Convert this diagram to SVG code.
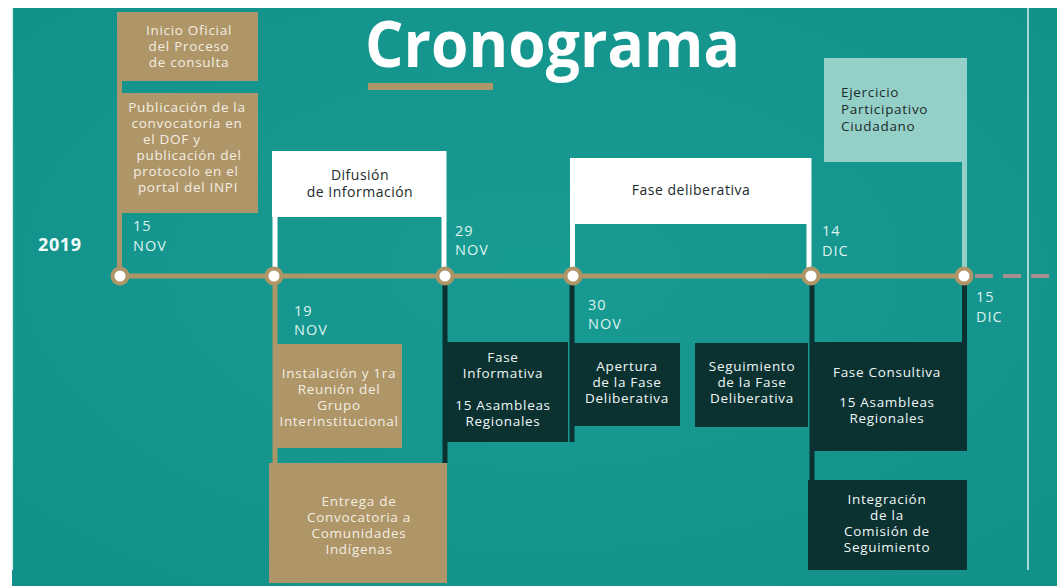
<svg xmlns="http://www.w3.org/2000/svg" width="1057" height="586" viewBox="0 0 1057 586">
<defs>
<style>
.t{font-family:"Open Sans","Liberation Sans",sans-serif;font-size:13.5px;letter-spacing:0.7px;text-anchor:middle}
.cream{fill:#f4ede2}
.dk{fill:#1c2b2b}
.wt{fill:#eef8f6}
.hd{font-size:14px;letter-spacing:0.5px}
.ej{font-size:13.5px;letter-spacing:0.7px;text-anchor:start}
.date{font-family:"Open Sans","Liberation Sans",sans-serif;font-size:14.5px;letter-spacing:1px;fill:#def2ee}
.tan{fill:#ae9668}
.dark{fill:#0c3131}
.white{fill:#ffffff}
.lt{fill:#95d0c8}
.stem{stroke-width:5;fill:none}
.dot{fill:#ffffff;stroke:#ae9668;stroke-width:4}
</style>
<radialGradient id="bg" cx="50%" cy="45%" r="70%">
<stop offset="0" stop-color="#189b93"/>
<stop offset="1" stop-color="#12918a"/>
</radialGradient>
</defs>
<rect x="0" y="0" width="1057" height="586" fill="#ffffff"/>
<rect x="12" y="8" width="1045" height="578" fill="url(#bg)"/>
<line x1="12.5" y1="8" x2="12.5" y2="570" stroke="#cfe9e5" stroke-width="1.2"/>
<line x1="1028" y1="8" x2="1028" y2="570" stroke="#d7efeb" stroke-width="1.5"/>

<g id="title">
<text x="365" y="67" font-family="'Open Sans','Liberation Sans',sans-serif" font-weight="700" font-size="64" fill="#ffffff" textLength="375" lengthAdjust="spacingAndGlyphs">Cronograma</text>
<rect x="368" y="83" width="125" height="7" class="tan"/>
</g>
<g id="year"><text x="38" y="251" font-family="'Open Sans','Liberation Sans',sans-serif" font-weight="700" font-size="18" letter-spacing="0.6" fill="#f2fbf9">2019</text></g>

<g id="connectors">
<line x1="120" y1="276" x2="964" y2="276" stroke="#ae9668" stroke-width="5"/>
<line x1="975" y1="276" x2="1057" y2="276" stroke="#a68e8e" stroke-width="4" stroke-dasharray="18 10"/>
<line x1="119.5" y1="12" x2="119.5" y2="276" stroke="#ae9668" class="stem"/>
<line x1="275" y1="151" x2="275" y2="276" stroke="#ffffff" class="stem"/>
<line x1="444" y1="151" x2="444" y2="276" stroke="#ffffff" class="stem"/>
<line x1="275" y1="276" x2="275" y2="463" stroke="#ae9668" class="stem"/>
<line x1="445" y1="276" x2="445" y2="463" stroke="#0c3131" class="stem"/>
<line x1="572.5" y1="158" x2="572.5" y2="276" stroke="#ffffff" class="stem"/>
<line x1="809" y1="158" x2="809" y2="276" stroke="#ffffff" class="stem"/>
<line x1="572" y1="276" x2="572" y2="442" stroke="#0c3131" class="stem"/>
<line x1="812" y1="276" x2="812" y2="480" stroke="#0c3131" class="stem"/>
<line x1="964.5" y1="58" x2="964.5" y2="276" stroke="#95d0c8" class="stem"/>
<line x1="964.5" y1="276" x2="964.5" y2="342" stroke="#0c3131" class="stem"/>
</g>

<g id="dots">
<circle cx="120" cy="276" r="7.5" class="dot"/>
<circle cx="274" cy="276" r="7.5" class="dot"/>
<circle cx="445" cy="276" r="7.5" class="dot"/>
<circle cx="573" cy="276" r="7.5" class="dot"/>
<circle cx="811" cy="276" r="7.5" class="dot"/>
<circle cx="964" cy="276" r="7.5" class="dot"/>
</g>

<g id="dates">
<text class="date" x="133" y="231">15</text><text class="date" x="133" y="251">NOV</text>
<text class="date" x="294" y="316">19</text><text class="date" x="294" y="335">NOV</text>
<text class="date" x="455" y="236">29</text><text class="date" x="455" y="255">NOV</text>
<text class="date" x="588" y="310">30</text><text class="date" x="588" y="329">NOV</text>
<text class="date" x="822" y="236">14</text><text class="date" x="822" y="256">DIC</text>
<text class="date" x="976" y="302">15</text><text class="date" x="976" y="322">DIC</text>
</g>

<g id="inicio">
<rect x="117" y="12" width="141" height="69" class="tan"/>
<text class="t cream" x="189" y="35">Inicio Oficial</text>
<text class="t cream" x="189" y="51">del Proceso</text>
<text class="t cream" x="189" y="67">de consulta</text>
</g>
<g id="publicacion">
<rect x="120" y="93" width="138" height="120" class="tan"/>
<text class="t cream" x="187" y="112">Publicación de la</text>
<text class="t cream" x="187" y="128">convocatoria en</text>
<text class="t cream" x="143" y="144" style="text-anchor:start">el DOF y</text>
<text class="t cream" x="189" y="160">publicación del</text>
<text class="t cream" x="186" y="176">protocolo en el</text>
<text class="t cream" x="188" y="192">portal del INPI</text>
</g>
<g id="difusion">
<rect x="272" y="151" width="174" height="66" class="white"/>
<text class="t dk hd" x="360" y="180">Difusión</text>
<text class="t dk hd" x="360" y="197">de Información</text>
</g>
<g id="deliberativa">
<rect x="570" y="158" width="241" height="66" class="white"/>
<text class="t dk hd" x="691" y="195">Fase deliberativa</text>
</g>
<g id="ejercicio">
<rect x="824" y="58" width="143" height="104" class="lt"/>
<text class="t dk ej" x="841" y="97">Ejercicio</text>
<text class="t dk ej" x="841" y="114">Participativo</text>
<text class="t dk ej" x="841" y="131">Ciudadano</text>
</g>
<g id="instalacion">
<rect x="275" y="344" width="127" height="104" class="tan"/>
<text class="t cream" x="339" y="378">Instalación y 1ra</text>
<text class="t cream" x="339" y="394">Reunión del</text>
<text class="t cream" x="339" y="410">Grupo</text>
<text class="t cream" x="339" y="426">Interinstitucional</text>
</g>
<g id="entrega">
<rect x="269" y="463" width="178" height="120" class="tan"/>
<text class="t cream" x="359" y="506">Entrega de</text>
<text class="t cream" x="359" y="522">Convocatoria a</text>
<text class="t cream" x="359" y="538">Comunidades</text>
<text class="t cream" x="359" y="554">Indígenas</text>
</g>
<g id="informativa">
<rect x="447" y="342" width="121" height="100" class="dark"/>
<text class="t wt" x="503" y="362">Fase</text>
<text class="t wt" x="503" y="378">Informativa</text>
<text class="t wt" x="503" y="410">15 Asambleas</text>
<text class="t wt" x="503" y="426">Regionales</text>
</g>
<g id="apertura">
<rect x="574" y="343" width="106" height="83" class="dark"/>
<text class="t wt" x="627" y="371">Apertura</text>
<text class="t wt" x="627" y="387">de la Fase</text>
<text class="t wt" x="627" y="403">Deliberativa</text>
</g>
<g id="seguimiento">
<rect x="695" y="343" width="113" height="84" class="dark"/>
<text class="t wt" x="752" y="371">Seguimiento</text>
<text class="t wt" x="752" y="387">de la Fase</text>
<text class="t wt" x="752" y="403">Deliberativa</text>
</g>
<g id="consultiva">
<rect x="810" y="342" width="157" height="109" class="dark"/>
<text class="t wt" x="887" y="377">Fase Consultiva</text>
<text class="t wt" x="887" y="407">15 Asambleas</text>
<text class="t wt" x="887" y="423">Regionales</text>
</g>
<g id="integracion">
<rect x="808" y="480" width="159" height="90" class="dark"/>
<text class="t wt" x="887" y="504">Integración</text>
<text class="t wt" x="887" y="520">de la</text>
<text class="t wt" x="887" y="536">Comisión de</text>
<text class="t wt" x="887" y="552">Seguimiento</text>
</g>
</svg>
